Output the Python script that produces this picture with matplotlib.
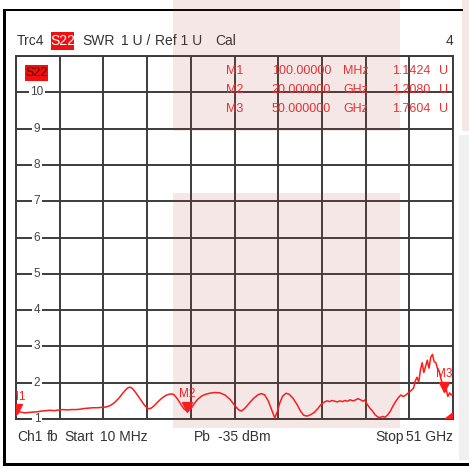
import numpy as np
import matplotlib
matplotlib.use("Agg")
import matplotlib.pyplot as plt
from matplotlib.patches import Rectangle, Polygon
from matplotlib import transforms

plt.rcParams['font.family'] = ['Liberation Sans', 'DejaVu Sans']

# S22 SWR trace: frequency (GHz) and SWR (U)
freq_ghz = [0.01, 0.10, 0.3, 0.6, 1.0, 1.5, 2.0, 2.5, 3.0, 3.5, 4.0, 4.5, 5.0, 5.5,
            6.0, 6.5, 7.0, 7.5, 8.0, 8.5, 9.0, 9.5, 10.0, 10.5, 11.0, 11.5, 12.0,
            12.5, 13.0, 13.3, 13.6, 14.0, 14.5, 15.0, 15.4, 15.8, 16.2, 16.6, 17.0,
            17.5, 18.0, 18.4, 18.8, 19.2, 19.6, 20.0, 20.4, 20.8, 21.2, 21.6, 22.0,
            22.6, 23.2, 23.8, 24.4, 25.0, 25.5, 26.0, 26.3, 26.7, 27.2, 27.7, 28.2,
            28.6, 29.0, 29.4, 29.8, 30.2, 30.5, 30.8, 31.1, 31.5, 31.9, 32.3, 32.8,
            33.2, 33.6, 34.0, 34.4, 34.8, 35.2, 35.6, 36.0, 36.3, 36.6, 36.9, 37.2,
            37.5, 37.8, 38.1, 38.4, 38.7, 39.0, 39.3, 39.6, 39.9, 40.2, 40.5, 40.7,
            41.0, 41.3, 41.6, 41.9, 42.2, 42.5, 42.8, 43.1, 43.4, 43.7, 44.0, 44.3,
            44.6, 44.9, 45.2, 45.5, 45.8, 46.1, 46.4, 46.6, 46.8, 47.0, 47.2, 47.4,
            47.6, 47.8, 48.0, 48.2, 48.4, 48.6, 48.8, 49.0, 49.2, 49.4, 49.6, 49.8,
            50.0, 50.2, 50.4, 50.6, 50.8, 51.0]
swr = [1.10, 1.142, 1.20, 1.19, 1.17, 1.18, 1.19, 1.20, 1.22, 1.23, 1.24, 1.23, 1.25, 1.26,
       1.25, 1.26, 1.26, 1.27, 1.29, 1.30, 1.31, 1.31, 1.32, 1.33, 1.37, 1.45, 1.57,
       1.72, 1.85, 1.88, 1.84, 1.72, 1.55, 1.38, 1.28, 1.30, 1.38, 1.48, 1.57,
       1.65, 1.69, 1.68, 1.57, 1.42, 1.28, 1.208, 1.28, 1.42, 1.54, 1.62, 1.67,
       1.71, 1.73, 1.72, 1.66, 1.54, 1.38, 1.25, 1.22, 1.29, 1.43, 1.56, 1.66,
       1.70, 1.67, 1.52, 1.28, 1.03, 1.20, 1.45, 1.62, 1.71, 1.68, 1.58, 1.40,
       1.22, 1.10, 1.08, 1.12, 1.18, 1.28, 1.40, 1.47, 1.50, 1.48, 1.51, 1.49,
       1.47, 1.50, 1.48, 1.51, 1.49, 1.53, 1.50, 1.52, 1.56, 1.53, 1.49, 1.52,
       1.40, 1.30, 1.22, 1.12, 1.06, 1.04, 1.07, 1.05, 1.12, 1.22, 1.36, 1.48,
       1.58, 1.66, 1.62, 1.66, 1.72, 1.78, 1.85, 2.05, 2.15, 2.02, 2.35, 2.55,
       2.28, 2.45, 2.62, 2.40, 2.70, 2.78, 2.58, 2.55, 2.38, 2.30, 2.10, 1.95,
       1.7604, 1.82, 1.62, 1.72, 1.66, 1.70]

# Markers
marker_names = ["M1", "M2", "M3"]
marker_freq_ghz = [0.1, 20.0, 50.0]
marker_swr = [1.1424, 1.2080, 1.7604]
marker_freq_text = ["100.00000", "20.000000", "50.000000"]
marker_unit_text = ["MHz", "GHz", "GHz"]
marker_val_text = ["1.1424", "1.2080", "1.7604"]

y_tick_labels = [1, 2, 3, 4, 5, 6, 7, 8, 9, 10]
f_start, f_stop = 0.01, 51.0

W = H = 469
fig = plt.figure(figsize=(4.69, 4.69), dpi=100)
fig.patch.set_facecolor("white")

def px_box(x0, y0, x1, y1):
    return [x0 / W, 1 - y1 / H, (x1 - x0) / W, (y1 - y0) / H]

GRID = "#3c3c3c"
RED = "#ff1a1a"
TXT = "#333333"

ax = fig.add_axes(px_box(16, 56, 453, 419))
ax.set_xlim(f_start, f_stop)
ax.set_ylim(1, 11)
ax.set_xticks(np.linspace(f_start, f_stop, 11))
ax.set_yticks(np.arange(1, 12))
ax.tick_params(length=0, labelleft=False, labelbottom=False)
ax.grid(True, color=GRID, lw=1.4)
for s in ax.spines.values():
    s.set_color(GRID)
    s.set_linewidth(1.4)

# y-axis scale labels sit on the grid lines
lab_tr = transforms.blended_transform_factory(ax.transAxes, ax.transData)
for v in y_tick_labels:
    ax.text(21 / 437, v, str(v), transform=lab_tr, ha="center", va="center",
            fontsize=8.5, color="#444444", zorder=3,
            bbox=dict(boxstyle="square,pad=0.15", fc="white", ec="none"))

ax.plot(freq_ghz, swr, color=RED, lw=1.1, zorder=4, clip_on=True)

# marker triangles with tip on the trace
tri_tr = transforms.offset_copy(ax.transData, fig=fig, x=0, y=4.5, units="dots")
lbl_tr = transforms.offset_copy(ax.transData, fig=fig, x=0, y=17, units="dots")
for name, f, v in zip(marker_names, marker_freq_ghz, marker_swr):
    ax.plot([f], [v], marker="v", ms=7.5, color=RED, mec=RED, transform=tri_tr,
            zorder=5, clip_on=True)
    t = ax.text(f, v, name, transform=lbl_tr, ha="center", va="center",
                fontsize=8.5, color=RED, zorder=5)
    t.set_clip_on(True)

# Overlay in pixel coordinates
ov = fig.add_axes([0, 0, 1, 1], zorder=5)
ov.set_xlim(0, W)
ov.set_ylim(H, 0)
ov.axis("off")
ov.patch.set_alpha(0)

# reference position indicator
ov.add_patch(Polygon([(444, 419), (453, 412), (453, 419)], closed=True, fc=RED, ec="none"))

# frame
ov.add_patch(Rectangle((3, 9), 2.5, 457, fc="black", ec="none"))
ov.add_patch(Rectangle((3, 9), 460, 2.5, fc="black", ec="none"))
ov.add_patch(Rectangle((3, 463.5), 466, 2.5, fc="black", ec="none"))
ov.add_patch(Rectangle((459, 135), 10, 325, fc="#f0f0f0", ec="none"))

# header
hy = 41
ov.text(17, hy, "Trc4", fontsize=10, color=TXT, va="center", ha="left")
ov.add_patch(Rectangle((51, 32), 23, 18, fc="#f01010", ec="none"))
ov.text(62.5, hy, "S22", fontsize=10, color="white", va="center", ha="center")
ov.text(82, hy, "SWR", fontsize=10, color=TXT, va="center", ha="left")
ov.text(121, hy, "1 U /", fontsize=10, color=TXT, va="center", ha="left")
ov.text(155, hy, "Ref 1 U", fontsize=10, color=TXT, va="center", ha="left")
ov.text(215, hy, "Cal", fontsize=10, color=TXT, va="center", ha="left")
ov.text(453, hy, "4", fontsize=10, color=TXT, va="center", ha="right")

# trace label in the diagram
ov.add_patch(Rectangle((25, 65), 23, 16, fc="#f01010", ec="none"))
ov.text(36.5, 73, "S22", fontsize=9, color="#5a0000", va="center", ha="center")

# marker table
row_y = [71, 90, 109]
for y, n, ft, ut, vt in zip(row_y, marker_names, marker_freq_text, marker_unit_text, marker_val_text):
    ov.text(226, y, n, fontsize=9, color="#ee3030", va="center", ha="left")
    ov.text(331, y, ft, fontsize=9, color="#ee3030", va="center", ha="right")
    ov.text(343, y, ut, fontsize=9, color="#ee3030", va="center", ha="left")
    ov.text(430, y, vt, fontsize=9, color="#ee3030", va="center", ha="right")
    ov.text(439, y, "U", fontsize=9, color="#ee3030", va="center", ha="left")

# footer
fy = 437
ov.text(17, fy, "Ch1", fontsize=10, color=TXT, va="center", ha="left")
ov.text(47, fy, "fb", fontsize=10, color=TXT, va="center", ha="left")
ov.text(64, fy, "Start", fontsize=10, color=TXT, va="center", ha="left")
ov.text(100, fy, "10 MHz", fontsize=10, color=TXT, va="center", ha="left")
ov.text(194, fy, "Pb", fontsize=10, color=TXT, va="center", ha="left")
ov.text(218, fy, "-35 dBm", fontsize=10, color=TXT, va="center", ha="left")
ov.text(375, fy, "Stop", fontsize=10, color=TXT, va="center", ha="left")
ov.text(453, fy, "51 GHz", fontsize=10, color=TXT, va="center", ha="right")

# translucent highlight areas
PINK = (0.72, 0.25, 0.25)
for (x0, y0, x1, y1) in [(173, 0, 400, 131), (173, 193, 400, 428), (462, 0, 469, 131)]:
    ov.add_patch(Rectangle((x0, y0), x1 - x0, y1 - y0, fc=PINK, alpha=0.12, ec="none", zorder=10))

fig.savefig("out.png", dpi=100)
